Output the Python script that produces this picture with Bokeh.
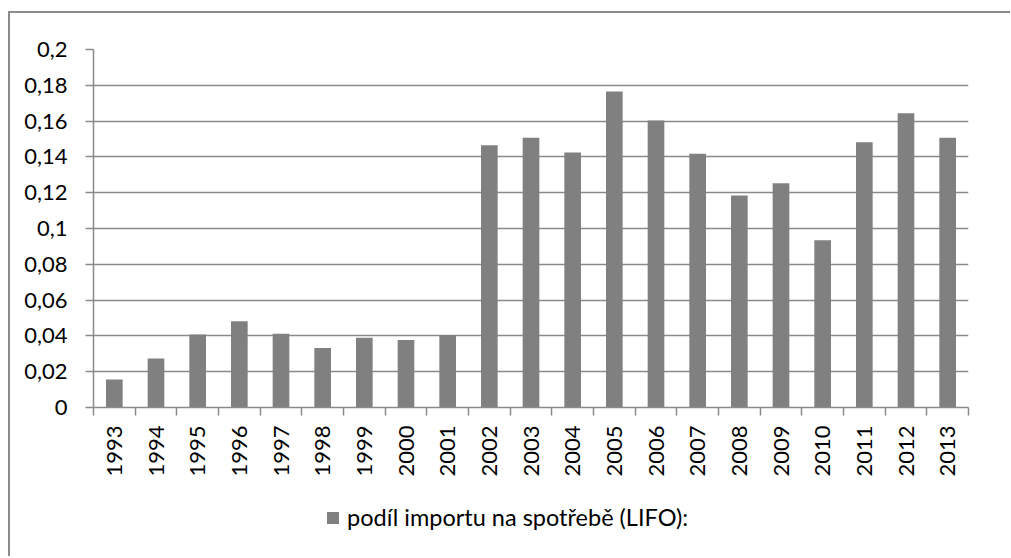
import numpy as np
from bokeh.plotting import figure
from bokeh.layouts import column
from bokeh.models import (ColumnDataSource, Range1d, FixedTicker, LinearAxis,
                          CustomJSTickFormatter, Legend, LegendItem, Grid)
from bokeh.embed import file_html
from bokeh.resources import INLINE

years = ["1993", "1994", "1995", "1996", "1997", "1998", "1999", "2000", "2001",
         "2002", "2003", "2004", "2005", "2006", "2007", "2008", "2009", "2010",
         "2011", "2012", "2013"]
share = [0.0156, 0.0274, 0.0408, 0.0482, 0.0412, 0.0332, 0.0390, 0.0377, 0.0405,
         0.1465, 0.1507, 0.1425, 0.1765, 0.1603, 0.1417, 0.1184, 0.1253, 0.0935,
         0.1482, 0.1644, 0.1507]
y_ticks = [0, 0.02, 0.04, 0.06, 0.08, 0.1, 0.12, 0.14, 0.16, 0.18, 0.2]
y_tick_labels = ["0", "0,02", "0,04", "0,06", "0,08", "0,1", "0,12", "0,14",
                 "0,16", "0,18", "0,2"]
series_name = "podíl importu na spotřebě (LIFO):"

FONT = "Lato"
GRID = "#8a8a8a"
BAR = "#808080"

n = len(years)
centers = list(np.arange(n) + 0.5)
bounds = list(np.arange(n + 1).astype(float))

src = ColumnDataSource(dict(x=centers, top=share, year=years))

# ---- main chart ----
p = figure(width=1000, height=466, output_backend="svg", toolbar_location=None,
           x_range=Range1d(0, n), y_range=Range1d(0, 0.2),
           min_border_left=83, min_border_right=42, min_border_top=36,
           min_border_bottom=72, x_axis_type=None, y_axis_type=None)
p.outline_line_color = None
p.background_fill_color = "white"
p.border_fill_color = "white"

r = p.vbar(x="x", top="top", width=0.4, bottom=0, source=src,
           fill_color=BAR, line_color=None)

yaxis = LinearAxis(ticker=FixedTicker(ticks=y_ticks))
yaxis.formatter = CustomJSTickFormatter(args=dict(yvals=y_ticks, ylabs=y_tick_labels), code="""
    let best = 0, bd = 1e9;
    for (let i = 0; i < yvals.length; i++) {
        const d = Math.abs(yvals[i] - tick);
        if (d < bd) { bd = d; best = i; }
    }
    return ylabs[best];
""")
yaxis.axis_line_color = GRID
yaxis.axis_line_width = 1.5
yaxis.major_tick_line_color = GRID
yaxis.major_tick_line_width = 1.5
yaxis.major_tick_out = 8
yaxis.major_tick_in = 0
yaxis.minor_tick_line_color = None
yaxis.major_label_standoff = 18
yaxis.major_label_text_font = FONT
yaxis.major_label_text_font_size = "22px"
yaxis.major_label_text_color = "black"
p.add_layout(yaxis, "left")

xaxis = LinearAxis(ticker=FixedTicker(ticks=centers, minor_ticks=bounds))
xaxis.formatter = CustomJSTickFormatter(args=dict(yrs=years), code="""
    return yrs[Math.round(tick - 0.5)];
""")
xaxis.axis_line_color = GRID
xaxis.axis_line_width = 1.5
xaxis.major_tick_line_color = None
xaxis.major_tick_out = 8
xaxis.major_tick_in = 0
xaxis.minor_tick_line_color = GRID
xaxis.minor_tick_line_width = 1.5
xaxis.minor_tick_out = 8
xaxis.minor_tick_in = 0
xaxis.major_label_orientation = np.pi / 2
xaxis.major_label_standoff = 10
xaxis.major_label_text_font = FONT
xaxis.major_label_text_font_size = "22px"
xaxis.major_label_text_color = "black"
p.add_layout(xaxis, "below")

grid = Grid(dimension=1, ticker=yaxis.ticker, grid_line_color=GRID, grid_line_width=1.5)
p.add_layout(grid)

# ---- legend strip (bars of the same series kept outside its visible range) ----
p2 = figure(width=1000, height=77, output_backend="svg", toolbar_location=None,
            x_range=Range1d(0, n), y_range=Range1d(1, 2),
            min_border_left=0, min_border_right=0, min_border_top=0,
            min_border_bottom=0, x_axis_type=None, y_axis_type=None)
p2.outline_line_color = None
p2.xgrid.visible = False
p2.ygrid.visible = False
p2.background_fill_color = "white"
p2.border_fill_color = "white"
r2 = p2.vbar(x="x", top="top", width=0.4, bottom=0, source=src,
             fill_color=BAR, line_color=None)

legend = Legend(items=[LegendItem(label=series_name, renderers=[r2])],
                location=(232, 25), orientation="horizontal",
                glyph_width=15, glyph_height=15, label_standoff=7,
                label_text_font=FONT, label_text_font_size="23.5px",
                label_text_color="black", padding=0, margin=0,
                border_line_color=None, background_fill_alpha=0)
p2.add_layout(legend, "center")

layout = column(p, p2, spacing=0)
layout.margin = (11, 0, 0, 8)
layout.styles = {"border-top": "2px solid #8c8c8c", "border-left": "2px solid #8c8c8c"}

open("out.html", "w").write(file_html(layout, INLINE))
